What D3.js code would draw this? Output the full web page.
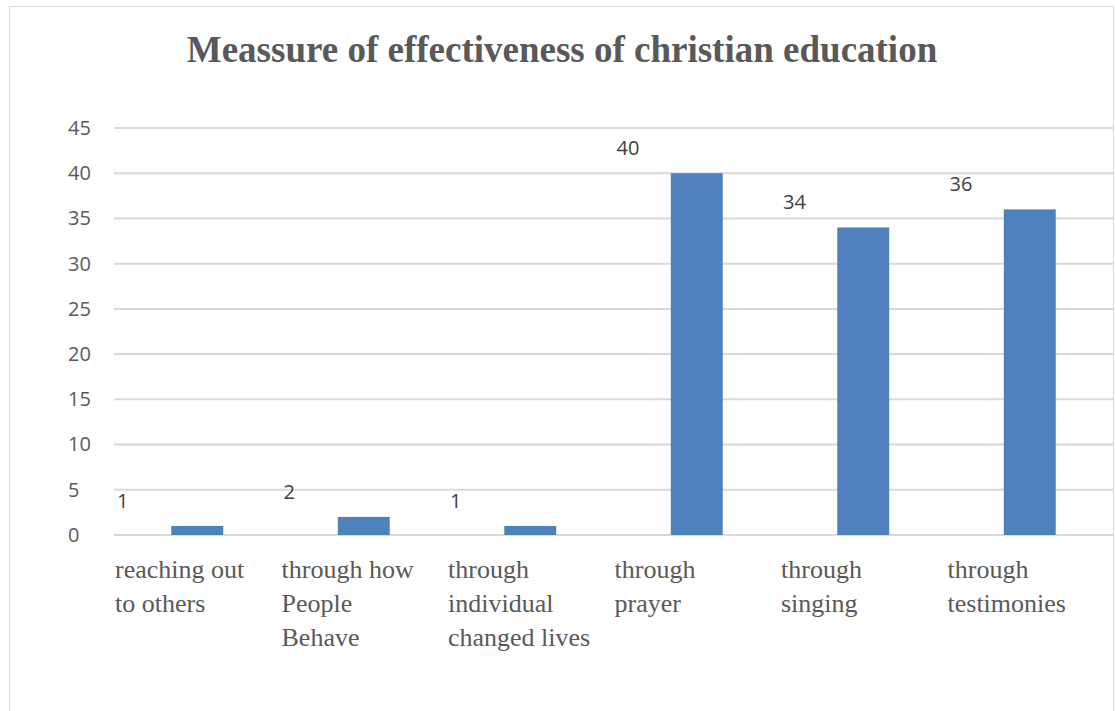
<!DOCTYPE html>
<html>
<head>
<meta charset="utf-8">
<script src="https://cdn.jsdelivr.net/npm/d3@7"></script>
<style>
  html, body { margin: 0; padding: 0; background: #fff; }
  svg { display: block; }
</style>
</head>
<body>
<svg id="chart" width="1115" height="711"></svg>
<script>
// Survey responses: how the effectiveness of christian education is measured
const categories = [
  ["reaching out", "to others"],
  ["through how", "People", "Behave"],
  ["through", "individual", "changed lives"],
  ["through", "prayer"],
  ["through", "singing"],
  ["through", "testimonies"]
];
const values = [1, 2, 1, 40, 34, 36];
const yTicks = [0, 5, 10, 15, 20, 25, 30, 35, 40, 45];
const title = "Meassure of effectiveness of christian education";

const svg = d3.select("#chart");

// outer chart frame
svg.append("rect")
  .attr("x", 9.5).attr("y", 6.5)
  .attr("width", 1104).attr("height", 720)
  .attr("fill", "#fff").attr("stroke", "#d9d9d9").attr("stroke-width", 1);

const plot = { left: 114, right: 1113, top: 128, bottom: 535 };

const x = d3.scaleBand()
  .domain(d3.range(categories.length))
  .range([plot.left, plot.right])
  .paddingInner(0.688)
  .paddingOuter(0.344);

const y = d3.scaleLinear()
  .domain([0, 45])
  .range([plot.bottom, plot.top]);

// title
svg.append("text")
  .attr("x", 562).attr("y", 62)
  .attr("text-anchor", "middle")
  .attr("font-family", "'Liberation Serif', 'Times New Roman', serif")
  .attr("font-weight", "bold")
  .attr("font-size", 37)
  .attr("fill", "#595959")
  .text(title);

// horizontal gridlines
svg.append("g")
  .selectAll("line")
  .data(yTicks)
  .join("line")
  .attr("x1", plot.left).attr("x2", plot.right)
  .attr("y1", d => y(d)).attr("y2", d => y(d))
  .attr("stroke", "#d9d9d9").attr("stroke-width", 2);

// y axis labels (left aligned)
const yAxis = d3.axisLeft(y).tickValues(yTicks).tickSize(0).tickPadding(0);
const gy = svg.append("g")
  .attr("transform", "translate(68,0)")
  .call(yAxis);
gy.select(".domain").remove();
gy.selectAll("text")
  .attr("text-anchor", "start")
  .attr("font-family", "'Open Sans', 'Liberation Sans', sans-serif")
  .attr("font-size", 20)
  .attr("fill", "#595959");

// bars
svg.append("g")
  .selectAll("rect")
  .data(values)
  .join("rect")
  .attr("x", (d, i) => x(i))
  .attr("width", x.bandwidth())
  .attr("y", d => y(d))
  .attr("height", d => y(0) - y(d))
  .attr("fill", "#4f81bd");

// the slot each category occupies
const step = x.step();
const slotStart = i => x(i) - step * x.paddingInner() / 2;

// data labels
svg.append("g")
  .selectAll("text")
  .data(values)
  .join("text")
  .attr("x", (d, i) => slotStart(i) + 3)
  .attr("y", d => y(d) - 18)
  .attr("font-family", "'Open Sans', 'Liberation Sans', sans-serif")
  .attr("font-size", 20)
  .attr("fill", "#404040")
  .text(d => d);

// category labels (wrapped)
const cat = svg.append("g")
  .selectAll("text")
  .data(categories)
  .join("text")
  .attr("x", (d, i) => slotStart(i) + 1)
  .attr("y", 578)
  .attr("font-family", "'Liberation Serif', 'Times New Roman', serif")
  .attr("font-size", 26)
  .attr("fill", "#595959");
cat.selectAll("tspan")
  .data(d => d)
  .join("tspan")
  .attr("x", function () { return d3.select(this.parentNode).attr("x"); })
  .attr("dy", (d, j) => j === 0 ? 0 : 34)
  .text(d => d);
</script>
</body>
</html>
